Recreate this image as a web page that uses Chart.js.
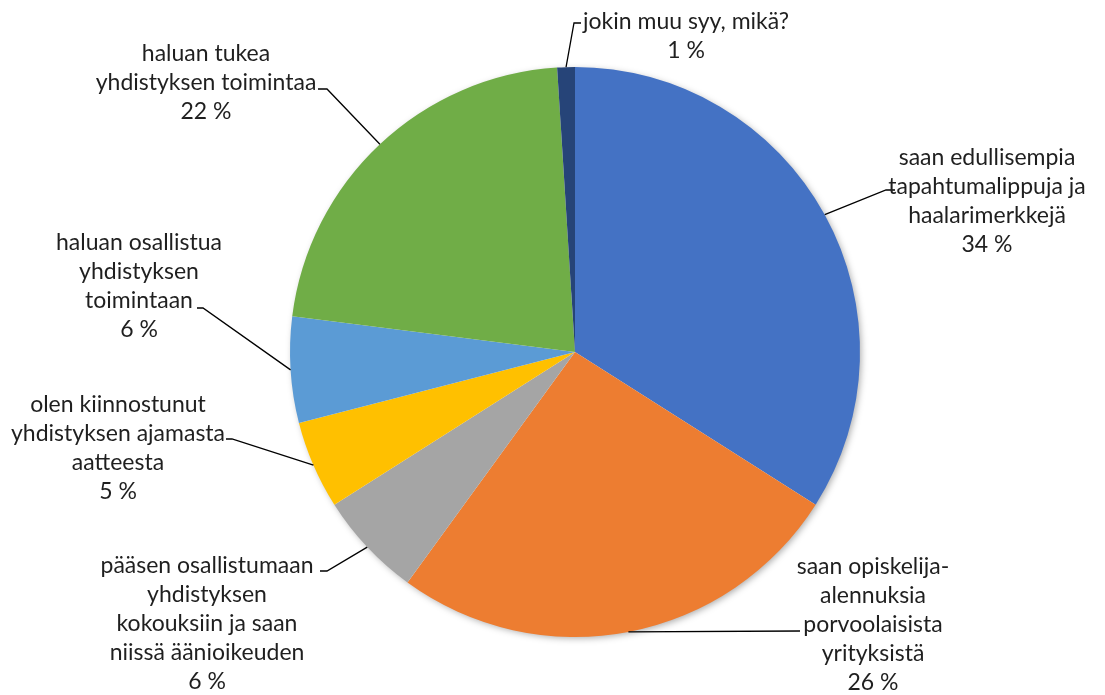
<!DOCTYPE html>
<html>
<head>
<meta charset="utf-8">
<script src="https://cdn.jsdelivr.net/npm/chart.js@4.4.1/dist/chart.umd.min.js"></script>
<style>
  html, body { margin: 0; padding: 0; background: #fff; }
  #wrap { width: 1105px; height: 695px; position: relative; }
</style>
</head>
<body>
<div id="wrap"><canvas id="reasons"></canvas></div>
<script>
// answers, clockwise from the top
const categories = [
    ['saan edullisempia', 'tapahtumalippuja ja', 'haalarimerkkejä'],
    ['saan opiskelija-', 'alennuksia', 'porvoolaisista', 'yrityksistä'],
    ['pääsen osallistumaan', 'yhdistyksen', 'kokouksiin ja saan', 'niissä äänioikeuden'],
    ['olen kiinnostunut', 'yhdistyksen ajamasta', 'aatteesta'],
    ['haluan osallistua', 'yhdistyksen', 'toimintaan'],
    ['haluan tukea', 'yhdistyksen toimintaa'],
    ['jokin muu syy, mikä?']
];
const shares = [34, 26, 6, 5, 6, 22, 1];
const colors = ['#4472C4', '#ED7D31', '#A5A5A5', '#FFC000', '#5B9BD5', '#70AD47', '#264478'];

// where each label block sits (centre x, first line y) and the elbow of its leader line
const labelPlaces = [
    {x: 987, y: 158, elbow: [886, 190], end: 895},
    {x: 873, y: 567, elbow: [800, 631], end: 800},
    {x: 207, y: 566, elbow: [327, 571], end: 320},
    {x: 118, y: 405, elbow: [232, 439], end: 226},
    {x: 139, y: 243, elbow: [203, 308], end: 197},
    {x: 206, y: 54, elbow: [327, 89], end: 318},
    {x: 686, y: 22, elbow: [574, 23], end: 581}
];

const lineStep = 29;
const labelFont = '23px Lato';

// soft shadow behind the pie
const pieShadow = {
    id: 'pieShadow',
    beforeDatasetsDraw(chart) {
        const arc = chart.getDatasetMeta(0).data[0];
        const ctx = chart.ctx;
        ctx.save();
        ctx.shadowColor = 'rgba(0,0,0,0.35)';
        ctx.shadowBlur = 7;
        ctx.shadowOffsetX = 2;
        ctx.shadowOffsetY = 2;
        ctx.fillStyle = '#fff';
        ctx.beginPath();
        ctx.arc(arc.x, arc.y, arc.outerRadius - 1, 0, Math.PI * 2);
        ctx.fill();
        ctx.restore();
    }
};

// labels outside the pie with leader lines
const outsideLabels = {
    id: 'outsideLabels',
    afterDatasetsDraw(chart) {
        const ctx = chart.ctx;
        const meta = chart.getDatasetMeta(0);
        ctx.save();
        meta.data.forEach((arc, i) => {
            const place = labelPlaces[i];
            const mid = (arc.startAngle + arc.endAngle) / 2;
            const sx = arc.x + Math.cos(mid) * arc.outerRadius;
            const sy = arc.y + Math.sin(mid) * arc.outerRadius;

            ctx.strokeStyle = '#000';
            ctx.lineWidth = 1.3;
            ctx.beginPath();
            ctx.moveTo(sx, sy);
            ctx.lineTo(place.elbow[0], place.elbow[1]);
            ctx.lineTo(place.end, place.elbow[1]);
            ctx.stroke();

            const lines = categories[i].concat([shares[i] + ' %']);
            ctx.fillStyle = '#1f1f1f';
            ctx.font = labelFont;
            ctx.textAlign = 'center';
            ctx.textBaseline = 'middle';
            lines.forEach((t, k) => ctx.fillText(t, place.x, place.y + k * lineStep));
        });
        ctx.restore();
    }
};

const data = {
    labels: categories,
    datasets: [{
        data: shares,
        backgroundColor: colors,
        borderWidth: 0,
        hoverOffset: 0
    }]
};

const config = {
    type: 'pie',
    data: data,
    options: {
        responsive: true,
        maintainAspectRatio: false,
        animation: false,
        radius: 285,
        layout: {
            padding: {left: 290, right: 245, top: 67, bottom: 58}
        },
        plugins: {
            legend: {display: false},
            tooltip: {enabled: false}
        }
    },
    plugins: [pieShadow, outsideLabels]
};

new Chart(
    document.getElementById('reasons'),
    config
);
</script>
</body>
</html>
